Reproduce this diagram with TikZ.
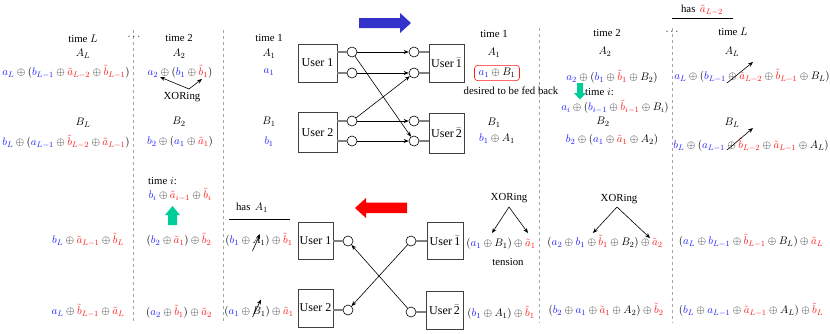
\documentclass[tikz,border=0pt]{standalone}
\usepackage{fontspec}
\setmainfont{Liberation Serif}
\usetikzlibrary{arrows.meta}
\definecolor{cb}{HTML}{2020FF}
\definecolor{cr}{HTML}{FF1A1A}
\definecolor{cg}{HTML}{00CC99}
\definecolor{carb}{HTML}{3333CC}
\newcommand{\bv}[1]{{\color{cb}#1}}
\newcommand{\rv}[1]{{\color{cr}#1}}
\newcommand{\ob}[1]{$\bar{\hbox{#1}}$}
\begin{document}
\begin{tikzpicture}[x=1pt,y=-1pt,
 lab/.style={font=\fontsize{10.8}{12}\selectfont, inner sep=0pt},
 mth/.style={font=\fontsize{11}{13}\selectfont, inner sep=0pt},
 user/.style={draw=black!75, line width=0.8pt, minimum width=39pt, minimum height=38pt, font=\fontsize{12}{14}\selectfont, inner sep=0pt},
 port/.style={circle, draw, fill=white, minimum size=10pt, inner sep=0pt, line width=0.6pt},
 stub/.style={draw=black!50, line width=1.2pt},
 link/.style={-{Stealth[length=5pt,width=4pt]}, line width=0.6pt},
 sep/.style={draw=black!35, dashed, line width=0.6pt},
 xarr/.style={-{Stealth[length=5pt,width=4pt]}, line width=0.6pt}
]
\useasboundingbox (0,0) rectangle (830,333);

% separators
\draw[sep] (133,30) -- (133,323);
\draw[sep] (223,30) -- (223,323);
\draw[sep] (539,28) -- (539,323);
\draw[sep] (672,28) -- (672,323);
\node[mth] (dotsL) at (134,37) {$\cdots$};
\node[mth] (dotsR) at (672,32) {$\cdots$};

% left column, time L
\node[lab] (tL) at (83,39) {time $L$};
\node[mth] (AL) at (83,54) {$A_L$};
\node[mth] (eAL) at (66,72) {$\bv{a_L}\oplus(\bv{b_{L-1}}\oplus\rv{\tilde a_{L-2}}\oplus\rv{\tilde b_{L-1}})$};
\node[mth] (BL) at (83,123) {$B_L$};
\node[mth] (eBL) at (66,142) {$\bv{b_L}\oplus(\bv{a_{L-1}}\oplus\rv{\tilde b_{L-2}}\oplus\rv{\tilde a_{L-1}})$};
\node[mth] (fL1) at (88,240) {$\bv{b_L}\oplus\rv{\tilde a_{L-1}}\oplus\rv{\tilde b_L}$};
\node[mth] (fL2) at (88,311) {$\bv{a_L}\oplus\rv{\tilde b_{L-1}}\oplus\rv{\tilde a_L}$};

% column time 2 (left)
\node[lab] (t2) at (179,38) {time 2};
\node[mth] (A2) at (179,54) {$A_2$};
\node[mth] (eA2) at (180,72) {$\bv{a_2}\oplus(\bv{b_1}\oplus\rv{\tilde b_1})$};
\node[lab] (xor1) at (182,97) {XORing};
\coordinate (x1s) at (189,89);
\coordinate (x1a) at (160,77);
\coordinate (x1b) at (202,79);
\draw[xarr] (x1s) -- (x1a);
\draw[xarr] (x1s) -- (x1b);
\node[mth] (B2) at (179,122) {$B_2$};
\node[mth] (eB2) at (180,142) {$\bv{b_2}\oplus(\bv{a_1}\oplus\rv{\tilde a_1})$};
\node[lab, anchor=west] (ti) at (148,181) {time $i$:};
\node[mth] (eI) at (180,195) {$\bv{b_i}\oplus\rv{\tilde a_{i-1}}\oplus\rv{\tilde b_i}$};
\fill[cg] (168,225) -- (168,215) -- (165,215) -- (172.5,206) -- (180,215) -- (177,215) -- (177,225) -- cycle;
\node[mth] (f2a) at (179,240) {$(\bv{b_2}\oplus\rv{\tilde a_1})\oplus\rv{\tilde b_2}$};
\node[mth] (f2b) at (179,312) {$(\bv{a_2}\oplus\rv{\tilde b_1})\oplus\rv{\tilde a_2}$};

% column time 1 (left)
\node[lab] (t1) at (269,38) {time 1};
\node[mth] (A1) at (269,54) {$A_1$};
\node[mth] (a1) at (269,72) {$\bv{a_1}$};
\node[mth] (B1) at (269,122) {$B_1$};
\node[mth] (b1) at (269,142) {$\bv{b_1}$};
\node[lab] (hasA) at (252,208) {has\, $A_1$};
\coordinate (hl1) at (229,219);
\coordinate (hl2) at (290,219);
\draw[line width=0.6pt] (hl1) -- (hl2);
\node[mth] (f1a) at (259,240) {$(\bv{b_1}\oplus A_1)\oplus\rv{\tilde b_1}$};
\node[mth] (f1b) at (259,312) {$(\bv{a_1}\oplus B_1)\oplus\rv{\tilde a_1}$};
\coordinate (s1a) at (252.5,251);
\coordinate (s1b) at (260,234);
\coordinate (s2a) at (252.5,317);
\coordinate (s2b) at (261,299.5);
\draw[xarr] (s1a) -- (s1b);
\draw[xarr] (s2a) -- (s2b);

% top users
\fill[carb] (359,18) -- (400,18) -- (400,13) -- (411,23) -- (400,33) -- (400,28) -- (359,28) -- cycle;
\node[user, minimum width=39pt, minimum height=38pt] (u1) at (317.5,63) {User 1};
\node[user, minimum width=39pt, minimum height=40pt] (u2) at (317.5,132.5) {User 2};
\node[user, minimum width=35pt, minimum height=38pt] (v1) at (446.5,63) {User\,\ob{1}};
\node[user, minimum width=35pt, minimum height=40pt] (v2) at (446.5,133) {User\,\ob{2}};
\node[port] (c1) at (352,52) {};
\node[port] (c2) at (352,73) {};
\node[port] (c3) at (352,121) {};
\node[port] (c4) at (352,141) {};
\node[port] (d1) at (414,52) {};
\node[port] (d2) at (414,73) {};
\node[port] (d3) at (414,121) {};
\node[port] (d4) at (414,141) {};
\foreach \c/\u in {c1/u1,c2/u1,c3/u2,c4/u2} \draw[stub] (\c -| \u.east) -- (\c.west);
\foreach \d/\v in {d1/v1,d2/v1,d3/v2,d4/v2} \draw[stub] (\d.east) -- (\d -| \v.west);
\draw[link] (c1) -- (d1);
\draw[link] (c1) -- (d4);
\draw[link] (c2) -- (d2);
\draw[link] (c3) -- (d2);
\draw[link] (c3) -- (d3);
\draw[link] (c4) -- (d4);

% bottom users
\fill[red] (355,208) -- (366,198) -- (366,202.5) -- (407,202.5) -- (407,213) -- (366,213) -- (366,218) -- cycle;
\node[user, minimum width=35pt, minimum height=37pt] (w1) at (315.5,240.5) {User 1};
\node[user, minimum width=35pt, minimum height=38pt] (w2) at (315.5,308) {User 2};
\node[user, minimum width=36pt, minimum height=37pt] (x1) at (445,240.5) {User\,\ob{1}};
\node[user, minimum width=37pt, minimum height=38pt] (x2) at (444.5,310) {User\,\ob{2}};
\node[port] (e1) at (348,241) {};
\node[port] (e2) at (348,310) {};
\node[port] (f1) at (411,241) {};
\node[port] (f2) at (411,312) {};
\draw[stub] (e1 -| w1.east) -- (e1.west);
\draw[stub] (e2 -| w2.east) -- (e2.west);
\draw[stub] (f1.east) -- (f1 -| x1.west);
\draw[stub] (f2.east) -- (f2 -| x2.west);
\draw[link] (f1) -- (e2);
\draw[link] (f2) -- (e1);

% right column, time 1
\node[lab] (t1R) at (494,34) {time 1};
\node[mth] (A1R) at (494,53) {$A_1$};
\node[mth, draw=cr, rounded corners=3pt, inner xsep=4pt, inner ysep=3pt, line width=0.6pt] (eA1R) at (497,73) {$\bv{a_1}\oplus B_1$};
\node[lab] (fed) at (511,91) {desired to be fed back};
\node[mth] (B1R) at (494,123) {$B_1$};
\node[mth] (eB1R) at (497,139) {$\bv{b_1}\oplus A_1$};
\node[lab] (xor2) at (509,198) {XORing};
\coordinate (x2s) at (509,207);
\coordinate (x2a) at (492,233);
\coordinate (x2b) at (528,233);
\draw[xarr] (x2s) -- (x2a);
\draw[xarr] (x2s) -- (x2b);
\node[mth] (g1a) at (501,244) {$(\bv{a_1}\oplus B_1)\oplus\rv{\tilde a_1}$};
\node[lab] (tens) at (508,262) {tension};
\node[mth] (g1b) at (501,313) {$(\bv{b_1}\oplus A_1)\oplus\rv{\tilde b_1}$};

% right column, time 2
\node[lab] (t2R) at (607,33) {time 2};
\node[mth] (A2R) at (605,52) {$A_2$};
\node[mth] (eA2R) at (612,77) {$\bv{a_2}\oplus(\bv{b_1}\oplus\rv{\tilde b_1}\oplus B_2)$};
\fill[cg] (577,83) -- (583,83) -- (583,93) -- (586,93) -- (580,99.5) -- (574,93) -- (577,93) -- cycle;
\node[lab, anchor=west] (tiR) at (585,92) {time $i$:};
\node[mth] (eAiR) at (615,107) {$\bv{a_i}\oplus(\bv{b_{i-1}}\oplus\rv{\tilde b_{i-1}}\oplus B_i)$};
\node[mth] (B2R) at (603,122) {$B_2$};
\node[mth] (eB2R) at (612,140) {$\bv{b_2}\oplus(\bv{a_1}\oplus\rv{\tilde a_1}\oplus A_2)$};
\node[lab] (xor3) at (619,199) {XORing};
\coordinate (x3s) at (617,207);
\coordinate (x3a) at (593,233);
\coordinate (x3b) at (650,238);
\draw[xarr] (x3s) -- (x3a);
\draw[xarr] (x3s) -- (x3b);
\node[mth] (g2a) at (605,242) {$(\bv{a_2}\oplus\bv{b_1}\oplus\rv{\tilde b_1}\oplus B_2)\oplus\rv{\tilde a_2}$};
\node[mth] (g2b) at (606,310) {$(\bv{b_2}\oplus\bv{a_1}\oplus\rv{\tilde a_1}\oplus A_2)\oplus\rv{\tilde b_2}$};

% right column, time L
\node[lab] (hasaL) at (702,10) {has\, $\rv{\tilde a_{L-2}}$};
\coordinate (hr1) at (672,18);
\coordinate (hr2) at (733,18);
\draw[line width=0.6pt] (hr1) -- (hr2);
\node[lab] (tLR) at (733,32) {time $L$};
\node[mth] (ALR) at (732,52) {$A_L$};
\node[mth] (eALR) at (752,76) {$\bv{a_L}\oplus(\bv{b_{L-1}}\oplus\rv{\tilde a_{L-2}}\oplus\rv{\tilde b_{L-1}}\oplus B_L)$};
\coordinate (s3a) at (727,83);
\coordinate (s3b) at (753,62);
\draw[xarr] (s3a) -- (s3b);
\node[mth] (BLR) at (732,123) {$B_L$};
\node[mth] (eBLR) at (751,145) {$\bv{b_L}\oplus(\bv{a_{L-1}}\oplus\rv{\tilde b_{L-2}}\oplus\rv{\tilde a_{L-1}}\oplus A_L)$};
\coordinate (s4a) at (727,150);
\coordinate (s4b) at (753,128);
\draw[xarr] (s4a) -- (s4b);
\node[mth] (gLa) at (751,241) {$(\bv{a_L}\oplus\bv{b_{L-1}}\oplus\rv{\tilde b_{L-1}}\oplus B_L)\oplus\rv{\tilde a_L}$};
\node[mth] (gLb) at (751,310) {$(\bv{b_L}\oplus\bv{a_{L-1}}\oplus\rv{\tilde a_{L-1}}\oplus A_L)\oplus\rv{\tilde b_L}$};
\end{tikzpicture}
\end{document}
